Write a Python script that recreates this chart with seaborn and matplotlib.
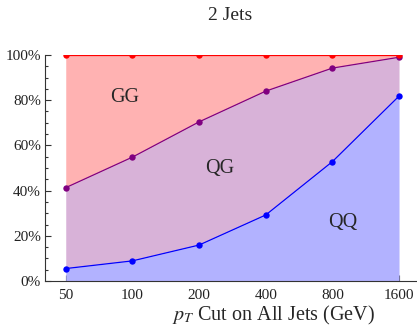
import matplotlib
matplotlib.use("Agg")
import matplotlib.pyplot as plt
import seaborn as sns
import pandas as pd
import numpy as np
from matplotlib.ticker import FixedLocator, MultipleLocator, FuncFormatter, NullLocator

# pT cut values (GeV) and channel fractions (%) for 2-jet events
pt_cut = [50, 100, 200, 400, 800, 1600]
qq_frac = [5.5, 8.9, 15.9, 29.2, 52.8, 81.8]
qg_frac = [35.8, 45.9, 54.5, 54.8, 41.4, 17.2]
gg_frac = [58.7, 45.2, 29.6, 16.0, 5.8, 1.0]

tick_labels = ["50", "100", "200", "400", "800", "1600"]

sns.set_style("ticks")
plt.rcParams["font.family"] = ["Liberation Serif", "DejaVu Serif"]
plt.rcParams["mathtext.fontset"] = "stix"

df = pd.DataFrame({"pt": pt_cut, "qq": qq_frac, "qg": qg_frac, "gg": gg_frac})
df["qq_top"] = df["qq"]
df["qg_top"] = df["qq"] + df["qg"]
df["gg_top"] = df["qq"] + df["qg"] + df["gg"]

fig = plt.figure(figsize=(4.17, 3.26), dpi=100)
ax = fig.add_axes([45 / 417, 1 - 281 / 326, 371 / 417, 226 / 326])

fills = [("gg_top", "qg_top", "#ffb2b2"), ("qg_top", "qq_top", "#d8b2d8")]
for top, bot, col in fills:
    ax.fill_between(df["pt"], df[bot], df[top], color=col, lw=0)
ax.fill_between(df["pt"], 0, df["qq_top"], color="#b2b2ff", lw=0)

for col_name, color in [("qq_top", "#0000ff"), ("qg_top", "#800080"), ("gg_top", "#ff0000")]:
    sns.lineplot(data=df, x="pt", y=col_name, ax=ax, color=color, lw=0.9,
                 marker="o", markersize=4.6, markeredgewidth=0, zorder=3)

ax.set_xscale("log", base=2)
ax.set_xlim(40.3, 1909)
ax.set_ylim(0, 100)

ax.xaxis.set_major_locator(FixedLocator(pt_cut))
ax.xaxis.set_minor_locator(NullLocator())
ax.set_xticklabels(tick_labels)
ax.yaxis.set_major_locator(MultipleLocator(20))
ax.yaxis.set_minor_locator(MultipleLocator(5))
ax.yaxis.set_major_formatter(FuncFormatter(lambda v, p: f"{int(round(v))}%"))

ax.tick_params(which="both", direction="in", labelsize=11, colors="#333333",
               labelcolor="#222222", width=0.8)
ax.tick_params(which="major", length=4.5, pad=3)
ax.tick_params(axis="x", which="major", pad=6)
ax.tick_params(which="minor", length=2.5)

for side in ["top", "right"]:
    ax.spines[side].set_visible(False)
for side in ["left", "bottom"]:
    ax.spines[side].set_color("#333333")
    ax.spines[side].set_linewidth(0.8)

ax.set_xlabel(r"$p_T$ Cut on All Jets (GeV)", fontsize=14.5, labelpad=1)
ax.xaxis.label.set_x(0.617)
ax.set_ylabel("")
fig.text(0.5 + 22 / 417, 1 - 15 / 326, "2 Jets", fontsize=14, ha="center", va="center")

ax.text(92, 81.3, "GG", fontsize=14.5, ha="center", va="center")
ax.text(248, 49.8, "QG", fontsize=14.5, ha="center", va="center")
ax.text(894, 25.8, "QQ", fontsize=14.5, ha="center", va="center")

fig.savefig("out.png", dpi=100)
